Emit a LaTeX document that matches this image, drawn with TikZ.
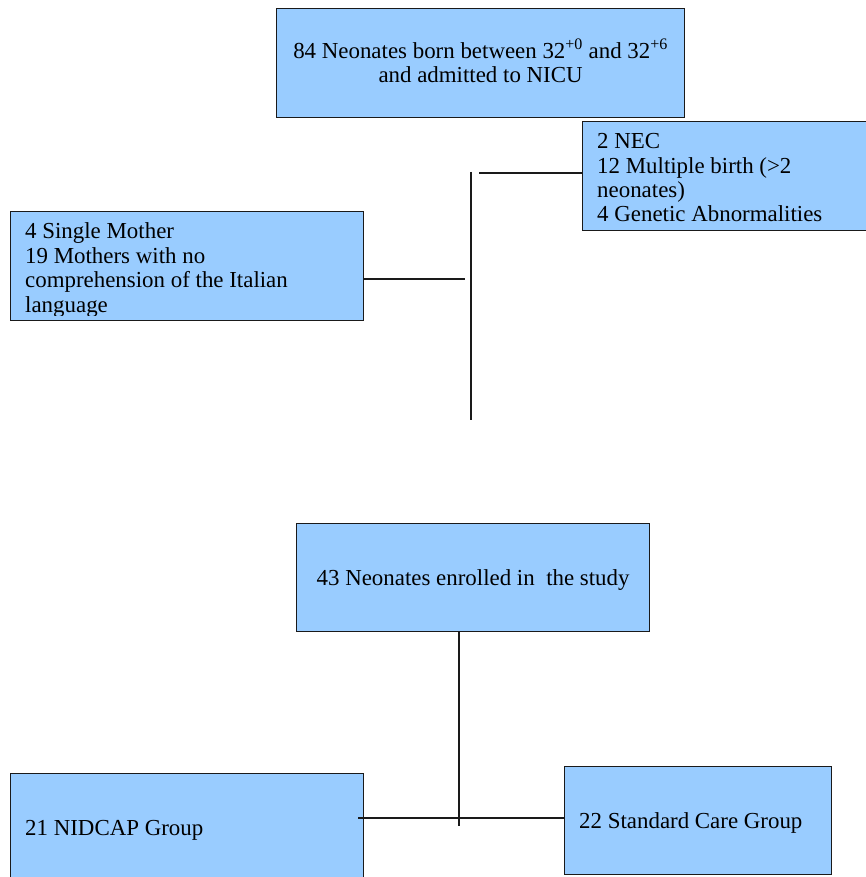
\documentclass[tikz,border=0pt]{standalone}
\usepackage{fontspec}
\setmainfont{Liberation Serif}
\definecolor{boxblue}{HTML}{99CCFF}
\definecolor{edge}{HTML}{1A1A1A}
\tikzset{
  box/.style={draw=edge, fill=boxblue, line width=1.2pt, rectangle, inner sep=0pt},
  txt/.style={font=\fontsize{22.9}{24}\selectfont, inner sep=0pt, text=black},
  conn/.style={draw=edge, line width=1.4pt}
}
\begin{document}
\begin{tikzpicture}[x=1pt,y=-1pt]
\useasboundingbox (0,0) rectangle (866,877);
\clip (0,0) rectangle (866,877);
% top box
\node[box, minimum width=408pt, minimum height=109pt, anchor=north west] (top) at (276,8) {};
\node[txt, align=center] (toptxt) at ([yshift=2pt]top.center) {84 Neonates born between 32\textsuperscript{+0} and 32\textsuperscript{+6}\\and admitted to NICU};
% right exclusion box
\node[box, minimum width=300pt, minimum height=109pt, anchor=north west] (exr) at (582,121) {};
\begin{scope}
\clip (582,121) rectangle (882,224);
\node[txt, font=\fontsize{22.9}{24.3}\selectfont, align=left, anchor=north west] (exrtxt) at (597,133.5) {2 NEC\\12 Multiple birth (>2\\neonates)\\4 Genetic Abnormalities};
\end{scope}
% left exclusion box
\node[box, minimum width=353pt, minimum height=109pt, anchor=north west] (exl) at (10,211) {};
\begin{scope}
\clip (10,211) rectangle (363,315);
\node[txt, font=\fontsize{22.9}{24.6}\selectfont, align=left, anchor=north west] (exltxt) at (25,222.4) {4 Single Mother\\19 Mothers with no\\comprehension of the Italian\\language};
\end{scope}
% vertical exclusion line
\coordinate (vtop) at (471,172);
\coordinate (vbot) at (471,420);
\draw[conn] (vtop) -- (vbot);
\coordinate (hr) at (479,173);
\draw[conn] (hr) -- (hr -| exr.west);
\coordinate (hl) at (465,279);
\draw[conn] (exl.east |- hl) -- (hl);
% enrolled
\node[box, minimum width=353pt, minimum height=108pt, anchor=north west] (enr) at (296,523) {};
\node[txt] (enrtxt) at ([yshift=-2pt]enr.center) {43 Neonates enrolled in\ \ the study};
% groups
\node[box, minimum width=353pt, minimum height=120pt, anchor=north west] (nid) at (10,773) {};
\node[txt, anchor=base west] (nidtxt) at (25,835) {21 NIDCAP Group};
\node[box, minimum width=267pt, minimum height=108pt, anchor=north west] (std) at (564,766) {};
\node[txt, anchor=base west] (stdtxt) at (579,828) {22 Standard Care Group};
\coordinate (split) at (459,826);
\draw[conn] (enr.south -| split) -- (split);
\coordinate (hb) at (358,818);
\draw[conn] (hb) -- (hb -| std.west);
\end{tikzpicture}
\end{document}
